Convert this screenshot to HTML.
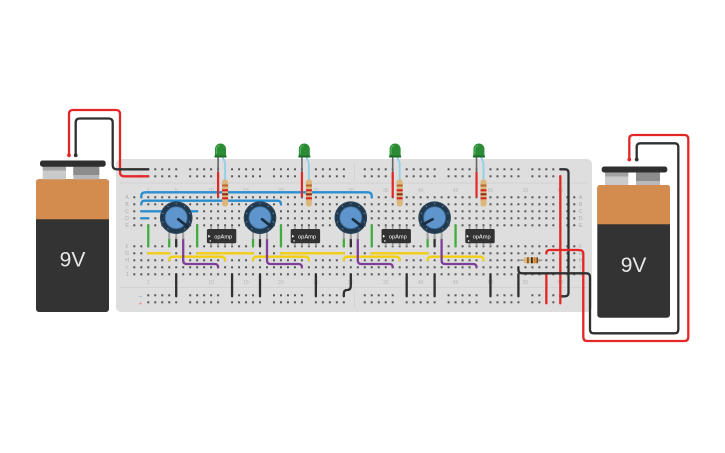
<!DOCTYPE html>
<html><head><meta charset="utf-8"><style>
html,body{margin:0;padding:0;background:#fff;}
svg{display:block;}
text{font-family:"Liberation Sans",sans-serif;}
</style></head><body>
<svg width="725" height="453" viewBox="0 0 725 453" xmlns="http://www.w3.org/2000/svg">
<defs>
<pattern id="h" patternUnits="userSpaceOnUse" x="130.808" y="193.8" width="6.984" height="7">
<rect x="2.492" y="2.5" width="2" height="2" fill="#555"/>
</pattern>
<g id="led">
<line x1="0" y1="157" x2="0" y2="172" stroke="#666" stroke-width="1.6"/>
<line x1="0" y1="172" x2="0" y2="197.3" stroke="#e32626" stroke-width="2.2"/>
<polyline points="4.5,157 6.984,163 6.984,181" fill="none" stroke="#8fd0e8" stroke-width="1.8"/>
<path d="M-3.1,157 V149 A5.5,5.5 0 0 1 7.9,149 V157 Z" fill="#2c8c35"/>
<path d="M-1.6,154 V149.5 A3.6,3.6 0 0 1 1.5,145.6" fill="none" stroke="#4fb558" stroke-width="1.2"/>
<rect x="-3.6" y="155.5" width="12" height="2" fill="#1f6e27"/>
<rect x="3.984" y="179.5" width="6" height="27" rx="2.5" fill="#dcb67c"/>
<rect x="3.984" y="184.5" width="6" height="2" fill="#b5652a"/>
<rect x="3.984" y="189.3" width="6" height="2" fill="#d42020"/>
<rect x="3.984" y="193.3" width="6" height="2" fill="#8a2a1a"/>
<rect x="3.984" y="197.3" width="6" height="2" fill="#d42020"/>
</g>
<g id="chip">
<rect x="-11.28" y="226" width="1.6" height="3.5" fill="#9a9a9a"/>
<rect x="-4.29" y="226" width="1.6" height="3.5" fill="#9a9a9a"/>
<rect x="2.69" y="226" width="1.6" height="3.5" fill="#9a9a9a"/>
<rect x="9.68" y="226" width="1.6" height="3.5" fill="#9a9a9a"/>
<rect x="-11.28" y="242.8" width="1.6" height="3.5" fill="#9a9a9a"/>
<rect x="-4.29" y="242.8" width="1.6" height="3.5" fill="#9a9a9a"/>
<rect x="2.69" y="242.8" width="1.6" height="3.5" fill="#9a9a9a"/>
<rect x="9.68" y="242.8" width="1.6" height="3.5" fill="#9a9a9a"/>
<rect x="-14.7" y="229" width="29.4" height="14.3" rx="1.5" fill="#323232"/>
<path d="M-13.3,234.8 L-11.1,236.3 L-13.3,237.8 Z" fill="#fff"/>
<rect x="-12" y="240.3" width="1.3" height="1.3" fill="#fff"/>
<text x="1.6" y="238.3" font-size="5.7" fill="#fff" text-anchor="middle">opAmp</text>
</g>
<g id="potbase">
<rect x="-7.984" y="14" width="2" height="7.5" fill="#a0a0a0"/>
<rect x="-1" y="14" width="2" height="7.5" fill="#a0a0a0"/>
<rect x="5.984" y="14" width="2" height="7.5" fill="#a0a0a0"/>
<circle r="16.3" fill="#22394d"/>
<circle r="15.6" fill="none" stroke="#2c475f" stroke-width="0.8"/>
<g fill="#7393b2">
<circle cx="0" cy="-14" r="0.6"/><circle cx="8.2" cy="-11.3" r="0.6"/><circle cx="13.3" cy="-4.3" r="0.6"/>
<circle cx="13.3" cy="4.3" r="0.6"/><circle cx="8.2" cy="11.3" r="0.6"/><circle cx="-8.2" cy="11.3" r="0.6"/>
<circle cx="-13.3" cy="4.3" r="0.6"/><circle cx="-13.3" cy="-4.3" r="0.6"/><circle cx="-8.2" cy="-11.3" r="0.6"/>
</g>
<circle r="11" fill="#5e95cd" stroke="#3b6c9b" stroke-width="0.9"/>
</g>
</defs>

<!-- breadboard -->
<rect x="116" y="159" width="476" height="153" rx="5" fill="#dedede"/>
<line x1="120" y1="183" x2="588" y2="183" stroke="#cfcfcf" stroke-width="0.7"/>
<line x1="120" y1="287.5" x2="588" y2="287.5" stroke="#cfcfcf" stroke-width="0.7"/>
<line x1="354.3" y1="163" x2="354.3" y2="181" stroke="#cfcfcf" stroke-width="0.7"/>
<line x1="354.3" y1="290" x2="354.3" y2="308" stroke="#cfcfcf" stroke-width="0.7"/>

<!-- holes -->
<rect x="130.808" y="193.8" width="446.976" height="35" fill="url(#h)"/>
<rect x="130.808" y="242.8" width="446.976" height="35" fill="url(#h)"/>
<g fill="url(#h)">
<rect x="144.776" y="165.8" width="34.92" height="14"/><rect x="186.68" y="165.8" width="34.92" height="14"/>
<rect x="228.584" y="165.8" width="34.92" height="14"/><rect x="270.488" y="165.8" width="34.92" height="14"/>
<rect x="312.392" y="165.8" width="34.92" height="14"/><rect x="361.28" y="165.8" width="34.92" height="14"/>
<rect x="403.184" y="165.8" width="34.92" height="14"/><rect x="445.088" y="165.8" width="34.92" height="14"/>
<rect x="486.992" y="165.8" width="34.92" height="14"/><rect x="528.896" y="165.8" width="34.92" height="14"/>
<rect x="144.776" y="292.8" width="34.92" height="14"/><rect x="186.68" y="292.8" width="34.92" height="14"/>
<rect x="228.584" y="292.8" width="34.92" height="14"/><rect x="270.488" y="292.8" width="34.92" height="14"/>
<rect x="312.392" y="292.8" width="34.92" height="14"/><rect x="361.28" y="292.8" width="34.92" height="14"/>
<rect x="403.184" y="292.8" width="34.92" height="14"/><rect x="445.088" y="292.8" width="34.92" height="14"/>
<rect x="486.992" y="292.8" width="34.92" height="14"/><rect x="528.896" y="292.8" width="34.92" height="14"/>
</g>

<!-- labels -->
<g font-size="5" fill="#ababab" text-anchor="middle">
<text x="127" y="199.1">A</text><text x="127" y="206.1">B</text><text x="127" y="213.1">C</text><text x="127" y="220.1">D</text><text x="127" y="227.1">E</text>
<text x="127" y="248.1">F</text><text x="127" y="255.1">G</text><text x="127" y="262.1">H</text><text x="127" y="269.1">I</text><text x="127" y="276.1">J</text>
<text x="580.7" y="199.1">A</text><text x="580.7" y="206.1">B</text><text x="580.7" y="213.1">C</text><text x="580.7" y="220.1">D</text><text x="580.7" y="227.1">E</text>
<text x="580.7" y="248.1">F</text><text x="580.7" y="255.1">G</text><text x="580.7" y="262.1">H</text><text x="580.7" y="269.1">I</text><text x="580.7" y="276.1">J</text>
</g>
<g font-size="5" fill="#b8b8b8" text-anchor="middle">
<text x="148.27" y="191.8">1</text><text x="176.2" y="191.8">5</text><text x="211.12" y="191.8">10</text><text x="246.04" y="191.8">15</text>
<text x="280.96" y="191.8">20</text><text x="315.88" y="191.8">25</text><text x="350.8" y="191.8">30</text><text x="385.72" y="191.8">35</text>
<text x="420.64" y="191.8">40</text><text x="455.56" y="191.8">45</text><text x="490.48" y="191.8">50</text><text x="525.4" y="191.8">55</text><text x="560.32" y="191.8">60</text>
<text x="148.27" y="283.8">1</text><text x="176.2" y="283.8">5</text><text x="211.12" y="283.8">10</text><text x="246.04" y="283.8">15</text>
<text x="280.96" y="283.8">20</text><text x="315.88" y="283.8">25</text><text x="350.8" y="283.8">30</text><text x="385.72" y="283.8">35</text>
<text x="420.64" y="283.8">40</text><text x="455.56" y="283.8">45</text><text x="490.48" y="283.8">50</text><text x="525.4" y="283.8">55</text><text x="560.32" y="283.8">60</text>
</g>
<g font-size="7" text-anchor="middle">
<text x="140.5" y="171.7" fill="#6aa8d8">−</text><text x="140.5" y="178.7" fill="#f08080">+</text>
<text x="140.3" y="298.7" fill="#6aa8d8">−</text><text x="140.3" y="305.7" fill="#f08080">+</text>
</g>

<!-- wires on board -->
<g fill="none" stroke-width="2.3" stroke-linecap="round" stroke-linejoin="round">
<!-- blue -->
<g stroke="#2a8fd0">
<path d="M141.28,197.3 V196.3 Q141.28,192.3 145.28,192.3 H367.76 Q371.76,192.3 371.76,196.3 V197.3"/>
<path d="M141.28,204.3 Q141.28,200.7 144.9,200.7 H277.4 Q280.96,200.7 280.96,204.3"/>
<path d="M141.28,211.3 H197.16"/>
<path d="M141.28,218.3 H148.27"/>
</g>
<!-- green -->
<g stroke="#3fae3f">
<path d="M148.27,225.3 V246.3"/><path d="M197.16,225.3 V246.3"/><path d="M280.96,225.3 V246.3"/>
<path d="M371.76,225.3 V246.3"/><path d="M455.56,225.3 V246.3"/>
<path d="M169.22,239 V246.3"/><path d="M253.03,239 V246.3"/><path d="M343.82,239 V246.3"/><path d="M427.63,239 V246.3"/>
</g>
<!-- yellow -->
<g stroke="#f2cf12">
<path d="M148.27,253.3 H169.22"/><path d="M197.16,253.3 H253.03"/><path d="M280.96,253.3 H343.82"/><path d="M371.76,253.3 H427.63"/>
<path d="M169.22,260.3 Q169.22,256.7 172.8,256.7 H221.5 Q225.09,256.7 225.09,260.3"/>
<path d="M253.03,260.3 Q253.03,256.7 256.6,256.7 H305.3 Q308.9,256.7 308.9,260.3"/>
<path d="M343.82,260.3 Q343.82,256.7 347.4,256.7 H396.1 Q399.69,256.7 399.69,260.3"/>
<path d="M427.63,260.3 Q427.63,256.7 431.2,256.7 H479.9 Q483.5,256.7 483.5,260.3"/>
</g>
<!-- purple -->
<g stroke="#7f3f98">
<path d="M183.19,239 V260.5 Q183.19,264 186.7,264 H214.6 Q218.11,264 218.11,267.3"/>
<path d="M267,239 V260.5 Q267,264 270.5,264 H298.4 Q301.92,264 301.92,267.3"/>
<path d="M357.79,239 V260.5 Q357.79,264 361.3,264 H389.2 Q392.71,264 392.71,267.3"/>
<path d="M441.6,239 V260.5 Q441.6,264 445.1,264 H473 Q476.52,264 476.52,267.3"/>
</g>
<!-- black -->
<g stroke="#2f2f2f">
<path d="M176.2,239 V246.3"/><path d="M260.01,239 V246.3"/><path d="M350.8,239 V246.3"/><path d="M434.61,239 V246.3"/>
<path d="M176.2,274.3 V296.3"/><path d="M232.08,274.3 V296.3"/><path d="M260.01,274.3 V296.3"/><path d="M315.88,274.3 V296.3"/>
<path d="M406.68,274.3 V296.3"/><path d="M434.61,274.3 V296.3"/><path d="M490.48,274.3 V296.3"/><path d="M518.42,274.3 V296.3"/>
<path d="M350.8,274.3 V285.5 Q350.8,290 347.3,290 Q343.82,290 343.82,293.5 V296.3"/>
<path d="M560.32,169.3 H565 Q568.5,169.3 568.5,172.8 V292.8 Q568.5,296.3 565,296.3 H560.32"/>
</g>
<!-- red -->
<g stroke="#e32626">
<path d="M560.32,176.3 V303.3"/>
<path d="M546.36,274.3 V303.3"/>
</g>
</g>

<!-- chips -->
<use href="#chip" transform="translate(221.6,0)"/>
<use href="#chip" transform="translate(305.4,0)"/>
<use href="#chip" transform="translate(396.2,0)"/>
<use href="#chip" transform="translate(480,0)"/>

<!-- pots -->
<g transform="translate(176.2,217.7)"><use href="#potbase"/><line x1="2" y1="1.5" x2="11.5" y2="9" stroke="#1b2d3e" stroke-width="2.6" stroke-linecap="round"/></g>
<g transform="translate(260.01,217.7)"><use href="#potbase"/><line x1="2" y1="1.5" x2="11.5" y2="9" stroke="#1b2d3e" stroke-width="2.6" stroke-linecap="round"/></g>
<g transform="translate(350.8,217.7)"><use href="#potbase"/><line x1="2" y1="1.5" x2="11.5" y2="9" stroke="#1b2d3e" stroke-width="2.6" stroke-linecap="round"/></g>
<g transform="translate(434.61,217.7)"><use href="#potbase"/><line x1="-2" y1="1.5" x2="-11.2" y2="6.5" stroke="#1b2d3e" stroke-width="2.6" stroke-linecap="round"/></g>

<!-- LEDs + resistors -->
<use href="#led" transform="translate(218.11,0)"/>
<use href="#led" transform="translate(301.92,0)"/>
<use href="#led" transform="translate(392.71,0)"/>
<use href="#led" transform="translate(476.52,0)"/>

<!-- horizontal resistor -->
<line x1="518.42" y1="260.3" x2="542.5" y2="260.3" stroke="#9a9a9a" stroke-width="1.5"/>
<rect x="523.5" y="257.3" width="15" height="6" rx="2.5" fill="#dcb67c"/>
<rect x="527" y="257.3" width="1.8" height="6" fill="#8a5a2a"/>
<rect x="531" y="257.3" width="1.8" height="6" fill="#2b2b2b"/>
<rect x="533.8" y="257.3" width="1.8" height="6" fill="#e07b16"/>
<rect x="536.4" y="257.3" width="1.6" height="6" fill="#7a4a1f"/>

<!-- left battery -->
<rect x="36" y="179.3" width="73" height="132.7" rx="3" fill="#333"/>
<path d="M36,219.3 V182.3 Q36,179.3 39,179.3 H106 Q109,179.3 109,182.3 V219.3 Z" fill="#d38b4e"/>
<rect x="42.7" y="166" width="23.3" height="13.3" fill="#cacaca"/>
<rect x="42.7" y="166" width="23.3" height="4.5" fill="#a3a3a3"/>
<rect x="73.3" y="166" width="26" height="13.3" fill="#b8b8b8"/>
<rect x="73.3" y="166" width="26" height="9" fill="#8c8c8c"/>
<rect x="40" y="160.5" width="65.7" height="6.2" rx="2.5" fill="#2f2f2f"/>
<text x="72.5" y="266.7" font-size="21" fill="#e8e8e8" text-anchor="middle">9V</text>

<!-- right battery -->
<rect x="597.3" y="185" width="72.7" height="132.7" rx="3" fill="#333"/>
<path d="M597.3,224.3 V188 Q597.3,185 600.3,185 H667 Q670,185 670,188 V224.3 Z" fill="#d38b4e"/>
<rect x="605" y="172" width="23.3" height="13" fill="#cacaca"/>
<rect x="605" y="172" width="23.3" height="4.5" fill="#a3a3a3"/>
<rect x="636" y="172" width="24" height="13" fill="#b8b8b8"/>
<rect x="636" y="172" width="24" height="9" fill="#8c8c8c"/>
<rect x="601.7" y="166.5" width="65.6" height="6" rx="2.5" fill="#2f2f2f"/>
<text x="633.6" y="272" font-size="21" fill="#e8e8e8" text-anchor="middle">9V</text>

<!-- battery wires -->
<g fill="none" stroke-width="2.3" stroke-linecap="round" stroke-linejoin="round">
<path stroke="#e32626" d="M69,155.3 V114 Q69,110 73,110 H116 Q120,110 120,114 V172.3 Q120,176.3 124,176.3 H148.27"/>
<path stroke="#2f2f2f" d="M75.7,155.3 V122.5 Q75.7,118.5 79.7,118.5 H108.7 Q112.7,118.5 112.7,122.5 V165.3 Q112.7,169.3 116.7,169.3 H148.27"/>
<path stroke="#e32626" d="M629.3,159.5 V139 Q629.3,135 633.3,135 H684.3 Q688.3,135 688.3,139 V337 Q688.3,341 684.3,341 H587.3 Q583.3,341 583.3,337 V254 Q583.3,250 579.3,250 H549.9 Q546.36,250 546.36,253.3"/>
<path stroke="#2f2f2f" d="M636.7,159.5 V147 Q636.7,143.3 640.4,143.3 H674.6 Q678.3,143.3 678.3,147 V329.6 Q678.3,333.3 674.6,333.3 H593.7 Q590,333.3 590,329.6 V277 Q590,273.3 586.3,273.3 H521.9 Q518.42,273.3 518.42,269.8 V267.3"/>
</g>
<circle cx="69" cy="155.3" r="1.9" fill="#e32626"/>
<circle cx="75.7" cy="155.3" r="1.9" fill="#2f2f2f"/>
<circle cx="629.3" cy="159.5" r="1.9" fill="#e32626"/>
<circle cx="636.7" cy="159.5" r="1.9" fill="#2f2f2f"/>
</svg>
</body></html>
